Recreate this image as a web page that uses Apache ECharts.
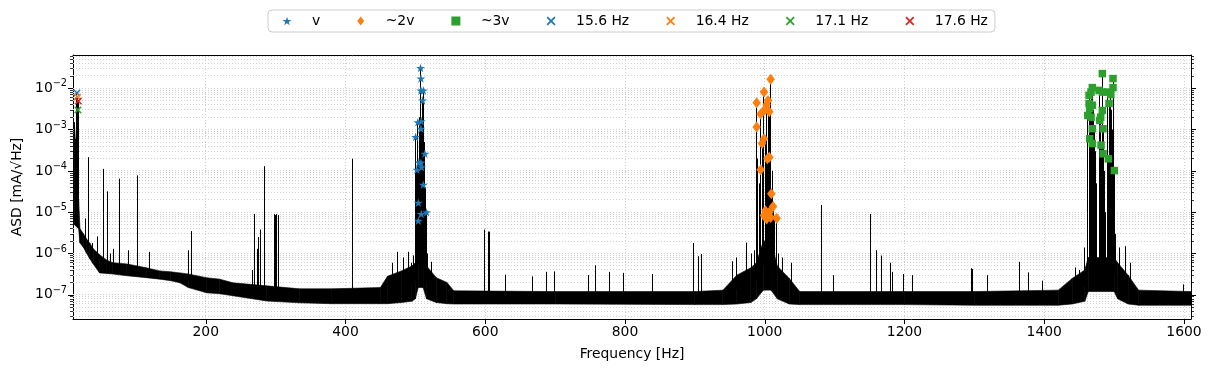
<!DOCTYPE html>
<html>
<head>
<meta charset="utf-8">
<script src="https://cdn.jsdelivr.net/npm/echarts@6/dist/echarts.min.js"></script>
<style>
  html, body { margin: 0; background: #fff; }
  #chart { width: 1211px; height: 372px; }
</style>
</head>
<body>
<div id="chart"></div>
<script>
// noise floor: lower / upper edge of the black band
const floorFreq = [10, 12, 18, 20, 25, 29, 34, 39, 48, 58, 67, 87, 115, 134, 150, 163, 175, 201, 220, 239, 287, 334, 380, 450, 460, 480, 495, 500, 504, 511, 516, 530, 545, 555, 700, 900, 940, 960, 980, 988, 998, 1009, 1018, 1035, 1050, 1200, 1300, 1420, 1440, 1458, 1463, 1500, 1505, 1520, 1535, 1610];
const floorLow = [5e-6, 5e-6, 4e-6, 1.8e-6, 1.4e-6, 1.05e-6, 7.5e-7, 5.6e-7, 3.4e-7, 3.3e-7, 3.2e-7, 2.9e-7, 2.6e-7, 2.4e-7, 2.2e-7, 1.95e-7, 1.5e-7, 1.12e-7, 1.06e-7, 9.5e-8, 7.1e-8, 6.4e-8, 6.1e-8, 6.1e-8, 6.1e-8, 6.5e-8, 7e-8, 8e-8, 1.5e-7, 1.5e-7, 8e-8, 6.5e-8, 6.1e-8, 6e-8, 6e-8, 5.8e-8, 5.8e-8, 6e-8, 6.5e-8, 8e-8, 1.3e-7, 1.3e-7, 8e-8, 6e-8, 5.8e-8, 5.8e-8, 5.6e-8, 5.6e-8, 6e-8, 7e-8, 1.2e-7, 1.2e-7, 8e-8, 6e-8, 5.6e-8, 5.6e-8];
const floorHigh = [4e-4, 1.5e-3, 2e-5, 4e-6, 3e-6, 2.3e-6, 1.8e-6, 1.3e-6, 9.4e-7, 7e-7, 6e-7, 5.6e-7, 4.5e-7, 3.8e-7, 3.6e-7, 3.4e-7, 3.2e-7, 2.6e-7, 2.4e-7, 1.95e-7, 1.65e-7, 1.4e-7, 1.4e-7, 1.5e-7, 2.8e-7, 3.8e-7, 5e-7, 6e-7, 2e-6, 2e-6, 5e-7, 2.6e-7, 2e-7, 1.25e-7, 1.2e-7, 1.2e-7, 1.3e-7, 3e-7, 4.5e-7, 6e-7, 2e-6, 2e-6, 5e-7, 2.5e-7, 1.2e-7, 1.2e-7, 1.2e-7, 1.3e-7, 2.5e-7, 4e-7, 8e-7, 8e-7, 6e-7, 3e-7, 1.3e-7, 1.2e-7];

// narrow lines sticking out of the floor
const spikeFreq = [13, 14.5, 15.6, 16.4, 17.1, 17.6, 28.4, 32.7, 37.4, 44.6, 53.1, 59.4, 64, 68.4, 77, 88.9, 101.8, 118.9, 176, 179.6,
  267.6, 270.1, 273.4, 276, 278.2, 283.4, 298.7, 300, 301.5, 303.4, 409.8, 467, 475, 483, 490.7, 494, 497,
  499.5, 500.3, 501.3, 502.2, 503.6, 504.2, 505, 506, 506.7, 507.4, 507.9, 508.4, 508.9, 509.6, 510.3, 511.3, 512.4, 513.6, 514.8, 516, 518, 522.7,
  598.5, 604.3, 605.5, 628.6, 668, 688, 698.6, 748.1, 758.1, 777.7, 798, 840, 897.8, 905.4, 908.8, 954, 958.9, 974, 980.4, 985,
  988.4, 990, 992, 994.1, 996.1, 997.5, 998.9, 1000.8, 1001.7, 1002.7, 1003.7, 1004.7, 1005.6, 1006.5, 1007.4, 1008.4, 1009.4, 1010.5, 1011.9, 1014, 1017, 1020,
  1025.5, 1038, 1081.9, 1098.5, 1151.9, 1159.5, 1167.7, 1180, 1182.8, 1198, 1212, 1296, 1298, 1319, 1364, 1378, 1398, 1445, 1450, 1457,
  1462.3, 1464.1, 1465.1, 1466, 1467, 1468.8, 1470, 1471.5, 1473, 1474.5, 1478.4, 1479.4, 1480.8, 1481.3, 1483.1, 1484.1, 1485.5, 1487,
  1490.9, 1491.7, 1492.7, 1493.8, 1495.2, 1496.5, 1497.3, 1498.4, 1500.3, 1502, 1507, 1515.6, 1523.7, 1598.6];
const spikeTop = [6e-4, 3e-3, 7.7e-3, 6.2e-3, 3.0e-3, 4.9e-3, 7e-6, 2.15e-4, 1.8e-6, 2.6e-6, 1.12e-4, 3.2e-5, 1e-6, 1.3e-6, 6.5e-5, 1.2e-6, 7.8e-5, 1.1e-6, 1.2e-6, 3.5e-6,
  4e-7, 9.1e-6, 1.3e-6, 2.5e-6, 3.8e-6, 1.3e-4, 9e-6, 8.5e-6, 9e-6, 8.5e-6, 1.97e-4, 6e-7, 1.1e-6, 8e-7, 1.1e-6, 6e-7, 9e-7,
  3e-5, 6.6e-4, 5e-5, 1.07e-4, 1.5e-3, 1.7e-5, 1.6e-4, 2e-3, 1.5e-2, 3.1e-2, 1.72e-2, 1.6e-3, 1.23e-4, 3e-3, 5.1e-3, 8.9e-3, 5e-4, 2.6e-4, 4e-5, 1e-5, 1e-6, 6.3e-7,
  3.8e-6, 3.4e-6, 3.4e-6, 3.1e-7, 2.8e-7, 3.6e-7, 3.7e-7, 3e-7, 5.2e-7, 3.6e-7, 3.4e-7, 3.2e-7, 1.8e-6, 8.6e-7, 9.7e-7, 6.5e-7, 8e-7, 1.85e-6, 1e-6, 1.2e-6,
  4.5e-3, 2e-4, 5e-5, 2.4e-3, 4.6e-4, 1e-4, 8.1e-3, 1.09e-5, 6e-4, 4e-3, 1.96e-4, 5.1e-3, 3e-4, 2.7e-3, 5e-4, 1.65e-2, 2.8e-5, 1e-4, 1.38e-5, 8e-6, 7.1e-6, 1e-6,
  8e-7, 6e-7, 1.5e-5, 3e-7, 9.1e-6, 1.2e-6, 8.9e-7, 6e-7, 3.6e-7, 3.2e-7, 3e-7, 4.4e-7, 4.2e-7, 3e-7, 6.3e-7, 3.5e-7, 2.2e-7, 4.6e-7, 4e-7, 1.4e-6,
  2.2e-3, 6.8e-3, 3.2e-3, 5e-3, 8.1e-3, 1.04e-2, 3e-3, 1e-3, 3e-4, 5e-5, 8.9e-3, 1.67e-3, 2e-3, 4.2e-4, 2.27e-2, 1.05e-3, 1e-4, 1e-5,
  8.1e-3, 1.96e-4, 4.3e-3, 5e-3, 7e-3, 3e-3, 1e-3, 1.72e-2, 1.02e-4, 3e-6, 1.4e-6, 1.5e-6, 6e-7, 1.8e-7];

// marked points
const vFreq = [507.4, 507.9, 507.9, 511.3, 510.3, 503.6, 508.4, 507.9, 500.3, 513.6, 505, 507.9, 502.2, 508.9, 511.3, 504.2, 508.4, 516, 504.2];
const vAsd = [3.1e-2, 1.72e-2, 8.9e-3, 8.9e-3, 5.1e-3, 1.5e-3, 1.6e-3, 1.05e-3, 6.6e-4, 2.6e-4, 1.6e-4, 1.58e-4, 1.07e-4, 1.23e-4, 4.6e-5, 1.7e-5, 9.1e-6, 1.0e-5, 6.2e-6];
const twoFreq = [1008.4, 988.4, 998.9, 1004.7, 1002.7, 994.1, 998.9, 1006.5, 988.4, 998.9, 996.1, 1003.7, 1006.5, 994.1, 1009.4, 1011.9, 1000.8, 1006.5, 998.9, 1008.4, 1002.7, 1017];
const twoAsd = [1.65e-2, 4.5e-3, 8.1e-3, 5.1e-3, 4e-3, 2.4e-3, 2.9e-3, 2.7e-3, 1.15e-3, 6e-4, 4.6e-4, 1.96e-4, 2.15e-4, 1.07e-4, 2.8e-5, 1.38e-5, 1.09e-5, 1.0e-5, 8.3e-6, 7.5e-6, 6.9e-6, 7.1e-6];
const threeFreq = [1483.1, 1498.4, 1468.8, 1467, 1464.1, 1478.4, 1483.1, 1490.9, 1495.2, 1498.4, 1464.1, 1468.8, 1465.1, 1462.3, 1467, 1492.7, 1483.1, 1480.8, 1479.4, 1468.8, 1484.1, 1465.1, 1468.8, 1481.3, 1484.1, 1491.7, 1500.3];
const threeAsd = [2.27e-2, 1.72e-2, 1.04e-2, 8.1e-3, 6.8e-3, 8.9e-3, 8.1e-3, 8.1e-3, 7e-3, 1.04e-2, 4.3e-3, 3.9e-3, 3.2e-3, 2.2e-3, 2e-3, 4.3e-3, 2.9e-3, 2e-3, 1.67e-3, 1.05e-3, 1.05e-3, 6e-4, 4.6e-4, 4.2e-4, 2.6e-4, 1.96e-4, 1.02e-4];
const lineNames = ['15.6 Hz', '16.4 Hz', '17.1 Hz', '17.6 Hz'];
const lineFreq = [15.6, 16.4, 17.1, 17.6];
const lineAsd = [7.7e-3, 6.2e-3, 3.0e-3, 4.9e-3];
const lineColors = ['#1f77b4', '#ff7f0e', '#2ca02c', '#d62728'];

const xTicks = [200, 400, 600, 800, 1000, 1200, 1400, 1600];
const yTicks = [1e-7, 1e-6, 1e-5, 1e-4, 1e-3, 1e-2];

const xMin = 10, xMax = 1610;
const yMin = 2.6e-8, yMax = 0.064;
const font = 'DejaVu Sans';

// minor log ticks 2..9 x 10^n inside the range
const yMinor = [];
for (let e = -8; e <= -2; e++) {
  for (let k = 2; k <= 9; k++) {
    const v = k * Math.pow(10, e);
    if (v > yMin && v < yMax) yMinor.push(v);
  }
}

const STAR = 'path://M50 0 L61.17 34.63 L97.55 34.55 L68.07 55.87 L79.39 90.45 L50 69 L20.61 90.45 L31.93 55.87 L2.45 34.55 L38.83 34.63 Z';
const DIAMOND = 'path://M5 0 L10 6.5 L5 13 L0 6.5 Z';
const SQUARE = 'path://M0 0 L10 0 L10 10 L0 10 Z';
const CROSS = 'path://M0 1.4 L1.4 0 L5 3.6 L8.6 0 L10 1.4 L6.4 5 L10 8.6 L8.6 10 L5 6.4 L1.4 10 L0 8.6 L3.6 5 Z';

const floorSegs = floorFreq.slice(0, -1).map((f, i) =>
  [f, floorLow[i], floorHigh[i], floorFreq[i + 1], floorLow[i + 1], floorHigh[i + 1]]);

// spike is drawn down into the band of the nearest floor sample
const spikeData = spikeFreq.map((f, i) => {
  let j = 0;
  floorFreq.forEach((ff, k) => { if (Math.abs(ff - f) < Math.abs(floorFreq[j] - f)) j = k; });
  return [f, spikeTop[i], Math.sqrt(floorLow[j] * floorHigh[j])];
});

const pairs = (xs, ys) => xs.map((x, i) => [x, ys[i]]);

// dotted grid: vertical at x ticks, horizontal at every major and minor log tick
const gridSegs = xTicks.map(v => [v, yMin, v, yMax])
  .concat(yTicks.concat(yMinor).map(v => [xMin, v, xMax, v]));

const tickStyle = { color: '#000', width: 1 };
const yAxisBase = { type: 'log', logBase: 10, min: yMin, max: yMax, splitLine: { show: false }, minorTick: { show: false } };

const chart = echarts.init(document.getElementById('chart'));
chart.setOption({
  animation: false,
  backgroundColor: '#fff',
  textStyle: { fontFamily: font },
  grid: { left: 73, right: 20, top: 55, bottom: 53 },
  legend: {
    left: 268, top: 10,
    itemWidth: 9, itemHeight: 9, itemGap: 37,
    padding: [4, 7, 4, 14.5],
    borderColor: '#cccccc', borderWidth: 1, borderRadius: 4,
    backgroundColor: '#fff',
    symbolKeepAspect: true,
    formatter: name => '{g| }' + name,
    textStyle: {
      fontSize: 13.9, color: '#000', fontFamily: font,
      rich: { g: { width: 15.5 } }
    },
    data: ['v', '~2v', '~3v'].concat(lineNames)
  },
  xAxis: [
    {
      type: 'value', min: xMin, max: xMax, position: 'bottom',
      axisLine: { lineStyle: tickStyle },
      axisTick: { customValues: xTicks, length: 5, lineStyle: tickStyle },
      axisLabel: { customValues: xTicks, margin: 6, fontSize: 13.9, color: '#000', fontFamily: font, formatter: v => String(v) },
      splitLine: { show: false },
      name: 'Frequency [Hz]', nameLocation: 'middle', nameGap: 28,
      nameTextStyle: { fontSize: 13.9, color: '#000', fontFamily: font }
    },
    {
      type: 'value', min: xMin, max: xMax, position: 'top',
      axisLine: { lineStyle: tickStyle }, axisTick: { show: false },
      axisLabel: { show: false }, splitLine: { show: false }
    }
  ],
  yAxis: [
    Object.assign({}, yAxisBase, {
      position: 'left',
      axisLine: { show: true, lineStyle: tickStyle },
      axisTick: { customValues: yTicks, length: 5, lineStyle: tickStyle },
      axisLabel: {
        customValues: yTicks, margin: 6, color: '#000',
        formatter: v => '{b|10}{s|\u2212' + (-Math.round(Math.log10(v))) + '}',
        rich: {
          b: { fontSize: 13.9, fontFamily: font, color: '#000', lineHeight: 19, verticalAlign: 'middle' },
          s: { fontSize: 9.7, fontFamily: font, color: '#000', lineHeight: 19, verticalAlign: 'top' }
        }
      },
      name: 'ASD [mA/\u221AHz]', nameLocation: 'middle', nameGap: 49,
      nameTextStyle: { fontSize: 13.9, color: '#000', fontFamily: font }
    }),
    Object.assign({}, yAxisBase, {
      position: 'left', axisLine: { show: false },
      axisTick: { customValues: yMinor, length: 3, lineStyle: { color: '#000', width: 0.8 } },
      axisLabel: { show: false }
    }),
    Object.assign({}, yAxisBase, {
      position: 'right', axisLine: { show: true, lineStyle: tickStyle },
      axisTick: { customValues: yTicks, length: 5, lineStyle: tickStyle },
      axisLabel: { show: false }
    }),
    Object.assign({}, yAxisBase, {
      position: 'right', axisLine: { show: false },
      axisTick: { customValues: yMinor, length: 3, lineStyle: { color: '#000', width: 0.8 } },
      axisLabel: { show: false }
    })
  ],
  series: [
    {
      type: 'custom', name: 'grid', z: 1, silent: true,
      data: gridSegs,
      encode: { x: [0, 2], y: [1, 3] },
      renderItem: (params, api) => {
        const p = api.coord([api.value(0), api.value(1)]);
        const q = api.coord([api.value(2), api.value(3)]);
        const vertical = api.value(0) === api.value(2);
        const x1 = vertical ? Math.round(p[0] - 0.5) + 0.5 : p[0];
        const x2 = vertical ? x1 : q[0];
        const y1 = vertical ? p[1] : Math.round(p[1] - 0.5) + 0.5;
        const y2 = vertical ? q[1] : y1;
        return {
          type: 'line', shape: { x1: x1, y1: y1, x2: x2, y2: y2 },
          style: { stroke: '#cfcfcf', lineWidth: 1, lineDash: [1, 2] }
        };
      }
    },
    {
      type: 'custom', name: 'floor', z: 3, clip: true,
      data: floorSegs,
      encode: { x: [0, 3], y: [1, 2, 4, 5] },
      renderItem: (params, api) => {
        const a = api.coord([api.value(0), api.value(2)]);
        const b = api.coord([api.value(3), api.value(5)]);
        const c = api.coord([api.value(3), api.value(4)]);
        const d = api.coord([api.value(0), api.value(1)]);
        return { type: 'polygon', shape: { points: [a, b, c, d] }, style: { fill: '#000', stroke: '#000', lineWidth: 0.6 } };
      }
    },
    {
      type: 'custom', name: 'spikes', z: 4, clip: true,
      data: spikeData,
      encode: { x: 0, y: [1, 2] },
      renderItem: (params, api) => {
        const top = api.coord([api.value(0), api.value(1)]);
        const base = api.coord([api.value(0), api.value(2)]);
        const x = Math.round(top[0] - 0.5) + 0.5;
        return { type: 'line', shape: { x1: x, y1: top[1], x2: x, y2: base[1] }, style: { stroke: '#000', lineWidth: 1 } };
      }
    },
    { type: 'scatter', name: 'v', z: 6, symbol: STAR, symbolSize: [9, 9], symbolKeepAspect: true, itemStyle: { color: '#1f77b4', opacity: 1 }, data: pairs(vFreq, vAsd) },
    { type: 'scatter', name: '~2v', z: 6, symbol: DIAMOND, symbolSize: [8.5, 11], itemStyle: { color: '#ff7f0e', opacity: 1 }, data: pairs(twoFreq, twoAsd) },
    { type: 'scatter', name: '~3v', z: 6, symbol: SQUARE, symbolSize: [7.5, 7.5], itemStyle: { color: '#2ca02c', opacity: 1 }, data: pairs(threeFreq, threeAsd) }
  ].concat(lineNames.map((n, i) => ({
    type: 'scatter', name: n, z: 7, symbol: CROSS, symbolSize: [7.5, 7.5],
    itemStyle: { color: lineColors[i], opacity: 1 }, data: [[lineFreq[i], lineAsd[i]]]
  })))
});
</script>
</body>
</html>
